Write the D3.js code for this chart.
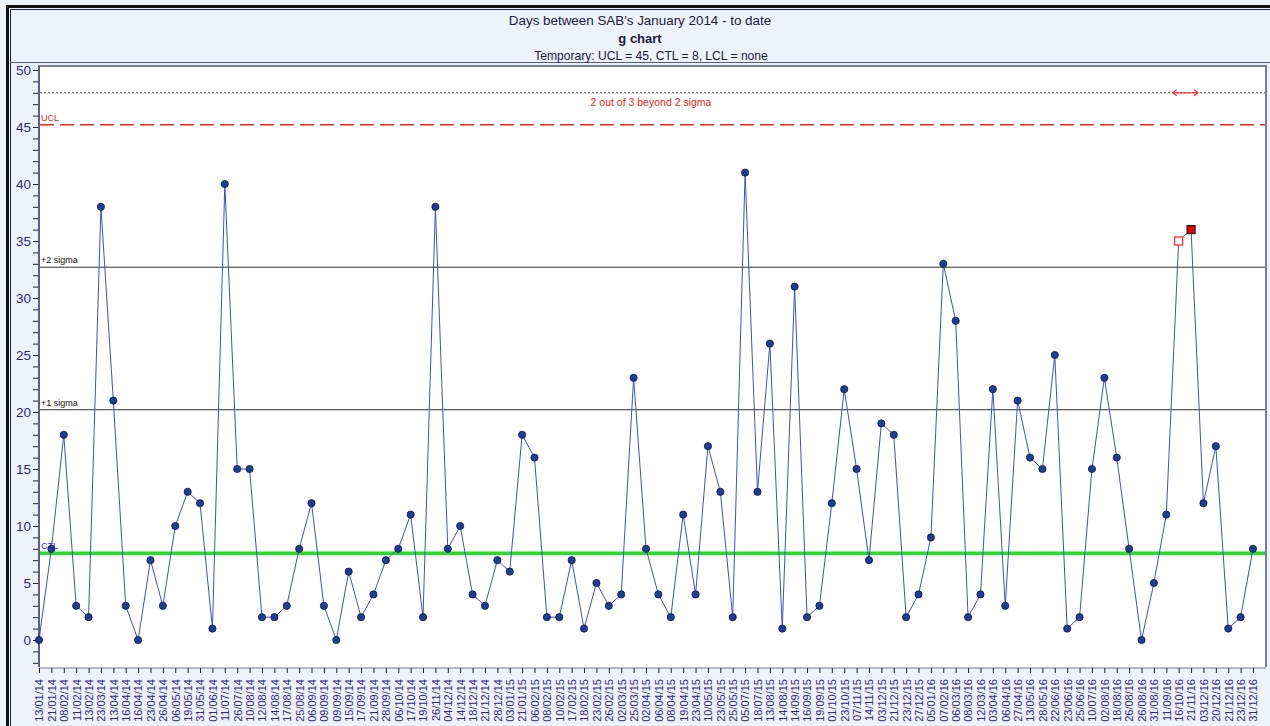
<!DOCTYPE html>
<html>
<head>
<meta charset="utf-8">
<script src="https://cdn.jsdelivr.net/npm/d3@7"></script>
<style>
  body { margin: 0; background: #fff; }
  svg { display: block; font-family: "Liberation Sans", Arial, sans-serif; }
</style>
</head>
<body>
<svg id="chart" width="1270" height="726"></svg>
<script>
// dates of each SAB (x categories)
var dates = [
  '13/01/14','21/01/14','08/02/14','11/02/14','13/02/14','23/03/14','13/04/14','16/04/14','16/04/14','23/04/14',
  '26/04/14','06/05/14','19/05/14','31/05/14','01/06/14','11/07/14','26/07/14','10/08/14','12/08/14','14/08/14',
  '17/08/14','25/08/14','06/09/14','09/09/14','09/09/14','15/09/14','17/09/14','21/09/14','28/09/14','06/10/14',
  '17/10/14','19/10/14','26/11/14','04/12/14','14/12/14','18/12/14','21/12/14','28/12/14','03/01/15','21/01/15',
  '06/02/15','08/02/15','10/02/15','17/02/15','18/02/15','23/02/15','26/02/15','02/03/15','25/03/15','02/04/15',
  '06/04/15','08/04/15','19/04/15','23/04/15','10/05/15','23/05/15','25/05/15','05/07/15','18/07/15','13/08/15',
  '14/08/15','14/09/15','16/09/15','19/09/15','01/10/15','23/10/15','07/11/15','14/11/15','03/12/15','21/12/15',
  '23/12/15','27/12/15','05/01/16','07/02/16','06/03/16','08/03/16','12/03/16','03/04/16','06/04/16','27/04/16',
  '13/05/16','28/05/16','22/06/16','23/06/16','25/06/16','10/07/16','02/08/16','18/08/16','26/08/16','26/08/16',
  '31/08/16','11/09/16','16/10/16','21/11/16','03/12/16','20/12/16','21/12/16','23/12/16','31/12/16'
];

// days between SABs
var days = [
  0, 8, 18, 3, 2, 38, 21, 3, 0, 7,
  3, 10, 13, 12, 1, 40, 15, 15, 2, 2,
  3, 8, 12, 3, 0, 6, 2, 4, 7, 8,
  11, 2, 38, 8, 10, 4, 3, 7, 6, 18,
  16, 2, 2, 7, 1, 5, 3, 4, 23, 8,
  4, 2, 11, 4, 17, 13, 2, 41, 13, 26,
  1, 31, 2, 3, 12, 22, 15, 7, 19, 18,
  2, 4, 9, 33, 28, 2, 4, 22, 3, 21,
  16, 15, 25, 1, 2, 15, 23, 16, 8, 0,
  5, 11, 35, 36, 12, 17, 1, 2, 8
];

// control lines
var limitNames = ['UCL', '+2 sigma', '+1 sigma', 'CTL'];
var limitValues = [45.2, 32.7, 20.2, 7.6];
var ruleValue = 48;
var ruleText = '2 out of 3 beyond 2 sigma';
var flagged = [92, 93]; // points breaking the rule (first open, second filled)

var yTicks = d3.range(-2, 51);

var titleLines = ["Days between SAB's January 2014 - to date", 'g chart', 'Temporary: UCL = 45, CTL = 8, LCL = none'];

var svg = d3.select('#chart');

// outer frame
svg.append('rect').attr('x', 0).attr('y', 0).attr('width', 1270).attr('height', 726).attr('fill', '#eef2fb');
svg.append('path')
  .attr('d', 'M7.5,726 V6.5 H1270')
  .attr('fill', 'none').attr('stroke', '#111').attr('stroke-width', 3);
svg.append('path')
  .attr('d', 'M10.5,726 V9.5 H1270')
  .attr('fill', 'none').attr('stroke', '#20206a').attr('stroke-width', 1);
svg.append('line')
  .attr('x1', 10).attr('x2', 1270).attr('y1', 62.5).attr('y2', 62.5)
  .attr('stroke', '#5a5a8a').attr('stroke-width', 1);

// titles
var title = svg.append('g').attr('fill', '#1a1a40').attr('text-anchor', 'middle');
title.append('text').attr('x', 640).attr('y', 25).style('font-size', '13.4px').text(titleLines[0]);
title.append('text').attr('x', 640).attr('y', 43).style('font-size', '13px').style('font-weight', 'bold').text(titleLines[1]);
title.append('text').attr('x', 651).attr('y', 60).style('font-size', '12.1px').text(titleLines[2]);

var plotLeft = 39, plotRight = 1266, plotTop = 66, plotBottom = 667;

var x = d3.scalePoint()
  .domain(d3.range(days.length))
  .range([39, 1253]);

var y = d3.scaleLinear()
  .domain([0, 50])
  .range([640, 70]);

// plot area
svg.append('rect')
  .attr('x', plotLeft).attr('y', plotTop)
  .attr('width', plotRight - plotLeft).attr('height', plotBottom - plotTop)
  .attr('fill', '#fff');

// y axis
var yAxis = svg.append('g')
  .attr('transform', 'translate(' + plotLeft + ',0)')
  .call(d3.axisLeft(y).tickValues(yTicks).tickSize(6).tickSizeOuter(0)
    .tickFormat(function (d) { return d % 5 === 0 ? d : ''; }));
yAxis.select('.domain').remove();
yAxis.selectAll('.tick line').attr('stroke', '#222');
yAxis.selectAll('.tick text')
  .attr('fill', '#2a2a80')
  .style('font-size', '13.5px')
  .style('font-family', '"Liberation Sans", Arial, sans-serif')
  .attr('x', -8);

// x axis
var xAxis = svg.append('g')
  .attr('transform', 'translate(0,' + (plotBottom + 1) + ')')
  .call(d3.axisBottom(x).tickSize(5).tickSizeOuter(0)
    .tickFormat(function (i) { return dates[i]; }));
xAxis.select('.domain').attr('stroke', '#7a7aa8').attr('d', 'M' + plotLeft + ',0H' + plotRight);
xAxis.selectAll('.tick line').attr('stroke', '#222');
xAxis.selectAll('.tick text')
  .attr('fill', '#2a2a80')
  .style('font-size', '11px')
  .style('font-family', '"Liberation Sans", Arial, sans-serif')
  .attr('transform', 'rotate(-90)')
  .attr('text-anchor', 'end')
  .attr('dy', '0.35em')
  .attr('x', -11)
  .attr('y', 0);

// plot border
svg.append('path')
  .attr('d', 'M' + plotLeft + ',' + plotBottom + 'V' + plotTop + 'H' + plotRight + 'V' + plotBottom)
  .attr('fill', 'none').attr('stroke', '#7a7aa8').attr('stroke-width', 2);
svg.append('line')
  .attr('x1', plotLeft).attr('x2', plotLeft).attr('y1', plotTop).attr('y2', plotBottom)
  .attr('stroke', '#55557a').attr('stroke-width', 1.5);

var lines = svg.append('g');
var x1 = plotLeft + 1, x2 = plotRight - 1;

// rule line (dotted) + message
lines.append('line')
  .attr('x1', x1).attr('x2', x2).attr('y1', y(ruleValue)).attr('y2', y(ruleValue))
  .attr('stroke', '#444').attr('stroke-width', 1).attr('stroke-dasharray', '2,2');
lines.append('text')
  .attr('x', 651).attr('y', y(ruleValue) + 13)
  .attr('text-anchor', 'middle').attr('fill', '#ff2020')
  .style('font-size', '10.5px').text(ruleText);

// arrow for the flagged run
var ax1 = x(flagged[0]) - 6, ax2 = x(flagged[1]) + 7, ay = y(ruleValue);
lines.append('line').attr('x1', ax1).attr('x2', ax2).attr('y1', ay).attr('y2', ay)
  .attr('stroke', '#ff3030').attr('stroke-width', 1.2);
lines.append('path')
  .attr('d', 'M' + (ax1 + 4) + ',' + (ay - 3) + 'L' + ax1 + ',' + ay + 'L' + (ax1 + 4) + ',' + (ay + 3) +
    'M' + (ax2 - 4) + ',' + (ay - 3) + 'L' + ax2 + ',' + ay + 'L' + (ax2 - 4) + ',' + (ay + 3))
  .attr('fill', 'none').attr('stroke', '#ff3030').attr('stroke-width', 1.2);

// UCL
lines.append('line')
  .attr('x1', x1).attr('x2', x2).attr('y1', y(limitValues[0])).attr('y2', y(limitValues[0]))
  .attr('stroke', '#ff2020').attr('stroke-width', 1.5).attr('stroke-dasharray', '14,6');
// sigma lines
[1, 2].forEach(function (k) {
  lines.append('line')
    .attr('x1', x1).attr('x2', x2).attr('y1', y(limitValues[k])).attr('y2', y(limitValues[k]))
    .attr('stroke', '#333').attr('stroke-width', 1);
});
// CTL
lines.append('line')
  .attr('x1', x1).attr('x2', x2).attr('y1', y(limitValues[3])).attr('y2', y(limitValues[3]))
  .attr('stroke', '#22e022').attr('stroke-width', 3.5);

var labelColors = ['#ff2020', '#111', '#111', '#3030ff'];
limitNames.forEach(function (name, k) {
  lines.append('text')
    .attr('x', 41).attr('y', y(limitValues[k]) - 4)
    .attr('fill', labelColors[k])
    .style('font-size', '9px')
    .text(name);
});

// data line
svg.append('path')
  .datum(days)
  .attr('fill', 'none')
  .attr('stroke', '#3a52c4')
  .attr('stroke-width', 1)
  .attr('d', d3.line().x(function (d, i) { return x(i); }).y(function (d) { return y(d); }));

// points
svg.append('g').selectAll('circle')
  .data(days.map(function (d, i) { return { i: i, v: d }; }).filter(function (p) { return flagged.indexOf(p.i) < 0; }))
  .enter().append('circle')
  .attr('cx', function (p) { return x(p.i); })
  .attr('cy', function (p) { return y(p.v); })
  .attr('r', 3.6)
  .attr('fill', '#1f3c96')
  .attr('stroke', '#0c1a40')
  .attr('stroke-width', 0.8);

// flagged points
svg.append('rect')
  .attr('x', x(flagged[0]) - 4).attr('y', y(days[flagged[0]]) - 4)
  .attr('width', 8).attr('height', 8)
  .attr('fill', '#fff').attr('stroke', '#ff2020').attr('stroke-width', 1.2);
svg.append('rect')
  .attr('x', x(flagged[1]) - 4).attr('y', y(days[flagged[1]]) - 4)
  .attr('width', 8).attr('height', 8)
  .attr('fill', '#ee0000').attr('stroke', '#222').attr('stroke-width', 1.2);
</script>
</body>
</html>
